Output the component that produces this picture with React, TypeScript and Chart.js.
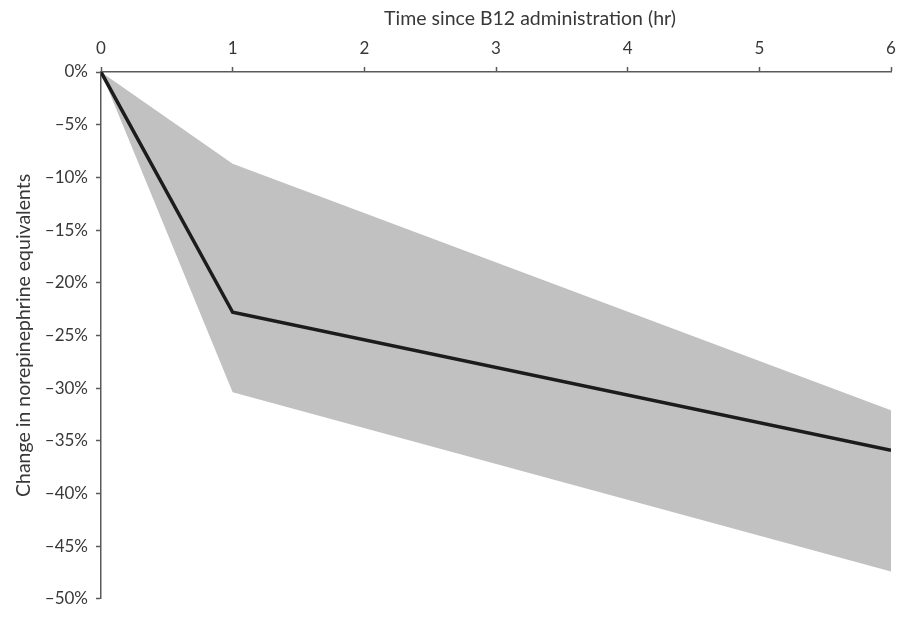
import React, { useEffect, useRef } from "react";
import { Chart, registerables } from "chart.js";

Chart.register(...registerables);

const hours = [0, 1, 6];
const meanChange = [0, -22.8, -35.9];
const upperBound = [0, -8.7, -32.1];
const lowerBound = [0, -30.4, -47.4];
const yTicks = [0, -5, -10, -15, -20, -25, -30, -35, -40, -45, -50];
const xTitle = "Time since B12 administration (hr)";
const yTitle = "Change in norepinephrine equivalents";

const FONT = "Lato, 'Open Sans', sans-serif";
const TEXT = "#383838";
const AXIS = "#5a5a5a";

const xTitlePlugin = {
  id: "xTitleShifted",
  afterDraw(chart: any) {
    const ctx = chart.ctx;
    const { left, right } = chart.chartArea;
    ctx.save();
    ctx.font = `19.5px ${FONT}`;
    ctx.fillStyle = TEXT;
    ctx.textAlign = "center";
    ctx.textBaseline = "middle";
    ctx.fillText(xTitle, (left + right) / 2 + 34, 19);
    ctx.restore();
  },
};

export default function App() {
  const ref = useRef<HTMLCanvasElement | null>(null);

  useEffect(() => {
    document.body.style.margin = "0";
    const toPts = (ys: number[]) => hours.map((h, i) => ({ x: h, y: ys[i] }));
    const chart = new Chart(ref.current as HTMLCanvasElement, {
      type: "line",
      data: {
        datasets: [
          {
            label: "Mean",
            data: toPts(meanChange),
            borderColor: "#1c1c1c",
            borderWidth: 3.5,
            pointRadius: 0,
            fill: false,
            tension: 0,
          },
          {
            label: "Upper",
            data: toPts(upperBound),
            borderWidth: 0,
            borderColor: "rgba(0,0,0,0)",
            backgroundColor: "#c1c1c1",
            pointRadius: 0,
            fill: "+1",
            tension: 0,
          },
          {
            label: "Lower",
            data: toPts(lowerBound),
            borderWidth: 0,
            borderColor: "rgba(0,0,0,0)",
            backgroundColor: "#c1c1c1",
            pointRadius: 0,
            fill: false,
            tension: 0,
          },
        ],
      },
      options: {
        animation: false,
        responsive: true,
        maintainAspectRatio: false,
        layout: { padding: { left: 0, top: 0, right: 16, bottom: 9 } },
        plugins: { legend: { display: false }, tooltip: { enabled: false } },
        scales: {
          x: {
            type: "linear",
            position: "top",
            min: 0,
            max: 6,
            ticks: {
              stepSize: 1,
              color: TEXT,
              font: { family: FONT, size: 17 },
              padding: 8,
              maxRotation: 0,
            },
            grid: {
              drawOnChartArea: false,
              drawTicks: true,
              tickLength: 5,
              tickColor: AXIS,
              tickWidth: 1.5,
            },
            border: { display: true, color: AXIS, width: 1.5 },
            title: { display: false },
            afterFit: (scale: any) => {
              scale.height = 72;
            },
          },
          y: {
            type: "linear",
            min: -50,
            max: 0,
            afterBuildTicks: (scale: any) => {
              scale.ticks = yTicks.map((v) => ({ value: v }));
            },
            ticks: {
              color: TEXT,
              font: { family: FONT, size: 17 },
              padding: 8,
              callback: (v: any) => (v === 0 ? "0%" : "\u2013" + Math.abs(v) + "%"),
            },
            grid: {
              drawOnChartArea: false,
              drawTicks: true,
              tickLength: 5,
              tickColor: AXIS,
              tickWidth: 1.5,
            },
            border: { display: true, color: AXIS, width: 1.5 },
            title: {
              display: true,
              text: yTitle,
              color: TEXT,
              font: { family: FONT, size: 19.5 },
              padding: { top: 12, bottom: 0 },
            },
            afterFit: (scale: any) => {
              scale.width = 101;
            },
          },
        },
      },
      plugins: [xTitlePlugin],
    });
    return () => chart.destroy();
  }, []);

  return (
    <div style={{ width: 907, height: 617, position: "relative" }}>
      <canvas ref={ref} />
    </div>
  );
}
